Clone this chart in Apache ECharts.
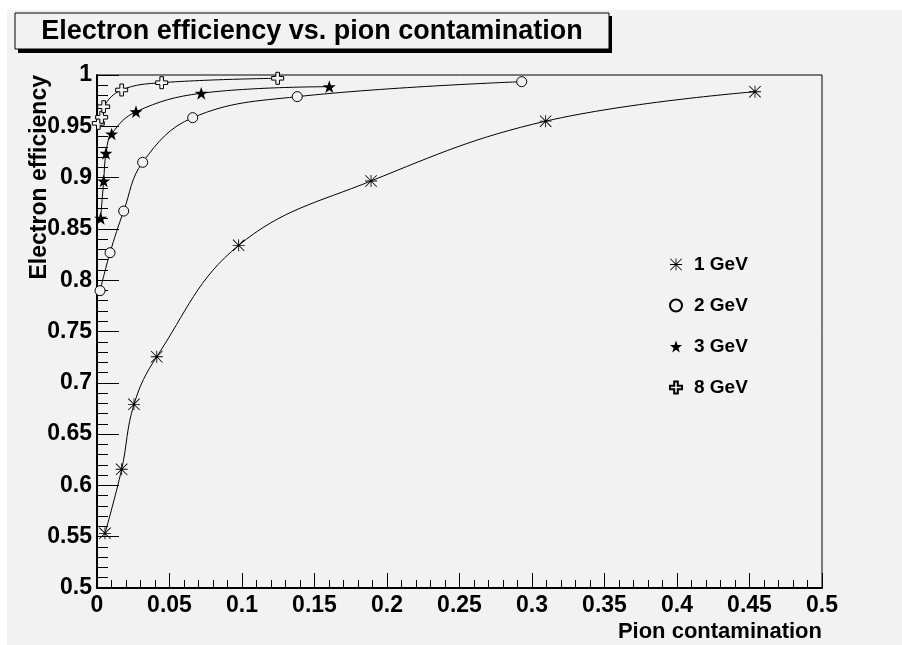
<!DOCTYPE html>
<html>
<head>
<meta charset="utf-8">
<script src="https://cdn.jsdelivr.net/npm/echarts@6/dist/echarts.min.js"></script>
<style>
  html, body { margin: 0; padding: 0; background: #fff; }
  #chart { width: 902px; height: 645px; }
</style>
</head>
<body>
<div id="chart"></div>
<script>
// axis ticks
var xTicks = [0, 0.05, 0.1, 0.15, 0.2, 0.25, 0.3, 0.35, 0.4, 0.45, 0.5];
var yTicks = [0.5, 0.55, 0.6, 0.65, 0.7, 0.75, 0.8, 0.85, 0.9, 0.95, 1];

var seriesNames = ["1 GeV", "2 GeV", "3 GeV", "8 GeV"];

// pion contamination / electron efficiency per beam energy
var e1x = [0.0055, 0.017, 0.0255, 0.0412, 0.0977, 0.189, 0.3094, 0.4538];
var e1y = [0.5533, 0.6157, 0.679, 0.7254, 0.834, 0.8967, 0.955, 0.9837];
var e2x = [0.0021, 0.009, 0.0184, 0.0315, 0.066, 0.1381, 0.2929];
var e2y = [0.7898, 0.8268, 0.8674, 0.9149, 0.9584, 0.9789, 0.9935];
var e3x = [0.0025, 0.0046, 0.0062, 0.0101, 0.0269, 0.0719, 0.1602];
var e3y = [0.8603, 0.8967, 0.9237, 0.9425, 0.9642, 0.9822, 0.9886];
var e8x = [0.0009, 0.0032, 0.0046, 0.017, 0.0446, 0.1246];
var e8y = [0.9529, 0.9588, 0.9691, 0.9854, 0.9925, 0.9968];

var BG = "#f2f2f2";
var FONT = "Liberation Sans, Arial, Helvetica, sans-serif";

// marker shapes (ROOT style)
var asterisk = "path://M9.3 0H10.7V20H9.3Z M0 9.3H20V10.7H0Z M0 1L1 0L20 19L19 20Z M19 0L20 1L1 20L0 19Z";
var star = "path://M10 0L12.35 7.1L19.5 7.1L13.7 11.5L15.9 18.6L10 14.2L4.1 18.6L6.3 11.5L0.5 7.1L7.65 7.1Z";
var openCross = "path://M7 0H13V7H20V13H13V20H7V13H0V7H7Z";

function pairs(xs, ys) {
  var out = [];
  for (var i = 0; i < xs.length; i++) out.push([xs[i], ys[i]]);
  return out;
}

function tickText(v) {
  return String(+v.toFixed(2));
}

var myChart = echarts.init(document.getElementById("chart"));

function lineSeries(name, xs, ys, symbol, size, itemStyle) {
  return {
    name: name,
    type: "line",
    data: pairs(xs, ys),
    smooth: 0.4,
    symbol: symbol,
    symbolSize: size,
    symbolKeepAspect: true,
    lineStyle: { color: "#000", width: 1 },
    itemStyle: itemStyle,
    emphasis: { disabled: true },
    z: 3
  };
}

var option = {
  backgroundColor: "#fff",
  animation: false,
  graphic: [
    { type: "rect", z: -10, shape: { x: 7, y: 10, width: 895, height: 635 }, style: { fill: BG } },
    // title box with shadow
    { type: "rect", z: 10, shape: { x: 18, y: 16, width: 594, height: 37 }, style: { fill: "#000" } },
    { type: "rect", z: 11, shape: { x: 15, y: 13, width: 594, height: 36 }, style: { fill: BG, stroke: "#000", lineWidth: 1 } },
    {
      type: "text", z: 12, x: 312, y: 32,
      style: { text: "Electron efficiency vs. pion contamination", fill: "#000", align: "center", verticalAlign: "middle",
               font: "bold 27px " + FONT }
    },
    {
      type: "text", z: 12, x: 822, y: 632,
      style: { text: "Pion contamination", fill: "#000", align: "right", verticalAlign: "middle",
               font: "bold 22px " + FONT }
    },
    {
      type: "text", z: 12, x: 40, y: 75, rotation: Math.PI / 2,
      style: { text: "Electron efficiency", fill: "#000", align: "right", verticalAlign: "middle",
               font: "bold 23px " + FONT }
    }
  ],
  grid: {
    left: 97, right: 80, top: 75, bottom: 57,
    outerBoundsMode: "none",
    containLabel: false,
    show: true, borderColor: "#000", borderWidth: 1, backgroundColor: "transparent"
  },
  legend: {
    orient: "vertical",
    left: 664, top: 250,
    itemWidth: 26, itemHeight: 12, itemGap: 22,
    textStyle: { color: "#000", fontSize: 19, fontWeight: "bold", fontFamily: FONT },
    data: [
      { name: seriesNames[0], icon: asterisk },
      { name: seriesNames[1], icon: "circle" },
      { name: seriesNames[2], icon: star },
      { name: seriesNames[3], icon: openCross }
    ]
  },
  xAxis: {
    type: "value",
    min: xTicks[0], max: xTicks[xTicks.length - 1], interval: xTicks[1] - xTicks[0],
    axisLine: { lineStyle: { color: "#000", width: 2 } },
    axisTick: { inside: true, length: 15, lineStyle: { color: "#000", width: 1 } },
    minorTick: { show: true, splitNumber: 5, length: 8, lineStyle: { color: "#000", width: 1 } },
    splitLine: { show: false },
    axisLabel: { color: "#000", fontSize: 23, fontWeight: "bold", fontFamily: FONT, margin: 6, formatter: tickText }
  },
  yAxis: {
    type: "value",
    min: yTicks[0], max: yTicks[yTicks.length - 1], interval: yTicks[1] - yTicks[0],
    axisLine: { lineStyle: { color: "#000", width: 2 } },
    axisTick: { inside: true, length: 22, lineStyle: { color: "#000", width: 1 } },
    minorTick: { show: true, splitNumber: 5, length: 11, lineStyle: { color: "#000", width: 1 } },
    splitLine: { show: false },
    axisLabel: { color: "#000", fontSize: 23, fontWeight: "bold", fontFamily: FONT, margin: 5, formatter: tickText }
  },
  series: [
    lineSeries(seriesNames[0], e1x, e1y, asterisk, 12, { color: "#000", borderWidth: 0 }),
    lineSeries(seriesNames[1], e2x, e2y, "circle", 10, { color: BG, borderColor: "#000", borderWidth: 1 }),
    lineSeries(seriesNames[2], e3x, e3y, star, 13, { color: "#000", borderWidth: 0 }),
    lineSeries(seriesNames[3], e8x, e8y, openCross, 12, { color: BG, borderColor: "#000", borderWidth: 1 })
  ]
};

myChart.setOption(option);
</script>
</body>
</html>
